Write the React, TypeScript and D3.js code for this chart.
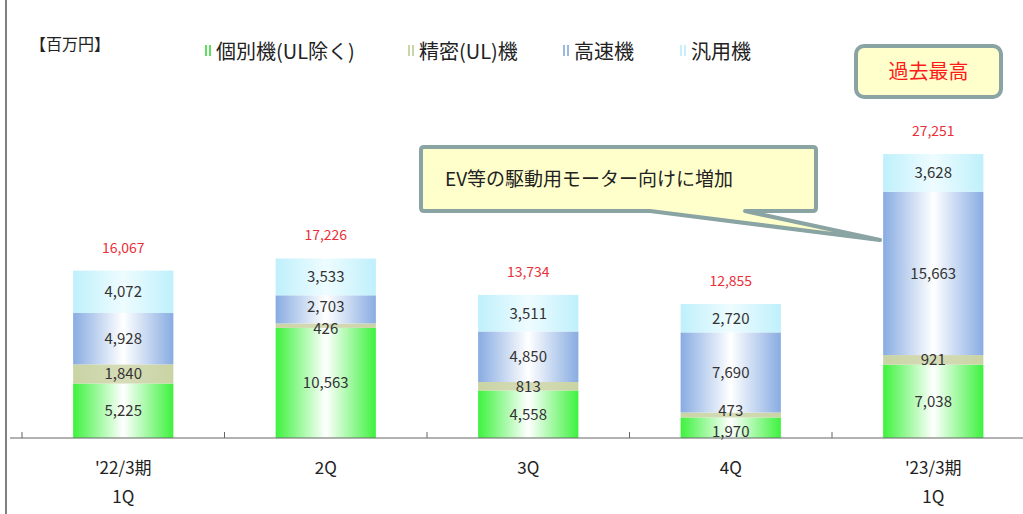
import * as d3 from 'd3'

const width = 1023
const height = 514

const categories = ["'22/3期\n1Q", '2Q', '3Q', '4Q', "'23/3期\n1Q"]
const seriesNames = ['個別機(UL除く)', '精密(UL)機', '高速機', '汎用機']
const kobetsu = [5225, 10563, 4558, 1970, 7038]
const seimitsu = [1840, 426, 813, 473, 921]
const kosoku = [4928, 2703, 4850, 7690, 15663]
const hanyo = [4072, 3533, 3511, 2720, 3628]
const totals = [16067, 17226, 13734, 12855, 27251]

const series = [kobetsu, seimitsu, kosoku, hanyo]
const edgeColors = ['#3ef23e', '#c9d3a3', '#88ace2', '#bff0fb']
const midColors = ['#ffffff', '#d6dcb8', '#ffffff', '#eefcff']
const legendMarks = ['#5de05d', '#c8d6a8', '#9bb8e0', '#c8effa']

const font = '"Noto Sans CJK JP", "Noto Sans", sans-serif'

const baseY = 438

function App() {
  const x = d3.scaleBand<string>()
    .domain(categories)
    .range([22, 22 + 202.5 * categories.length])
    .paddingInner(0.505)
    .paddingOuter(0.2525)

  const y = d3.scaleLinear()
    .domain([0, 27251])
    .range([baseY, 154])

  const stack = categories.map((c, i) => {
    let acc = 0
    return series.map((s, k) => {
      const y0 = acc
      acc += s[i]
      return { k, y0, y1: acc, v: s[i] }
    })
  })

  const ticks = categories.map((_, i) => 22 + 202.5 * i)
  const fmt = d3.format(',')

  // label nudges for thin segments
  const labelShift = (i: number, k: number) => {
    if (i === 3 && k === 0) return 4
    if (i === 3 && k === 1) return -4
    if (i === 1 && k === 1) return 3
    if (i === 1 && k === 2) return -3
    return 0
  }

  const calloutPath = 'M424,147 L813,147 Q816,147 816,150 L816,208 Q816,211 813,211 L745,211 L880,240 L650,211 L424,211 Q421,211 421,208 L421,150 Q421,147 424,147 Z'

  return (
    <svg width={width} height={height} style={{ position: 'absolute', left: 0, top: 0, background: '#fff' }} fontFamily={font}>
      <defs>
        {series.map((_, k) => (
          <linearGradient key={k} id={`g${k}`} x1="0" x2="1" y1="0" y2="0">
            <stop offset="0%" stopColor={edgeColors[k]} />
            <stop offset="50%" stopColor={midColors[k]} />
            <stop offset="100%" stopColor={edgeColors[k]} />
          </linearGradient>
        ))}
      </defs>

      <line x1={6} x2={6} y1={0} y2={height} stroke="#555" strokeWidth={1.5} />

      <text x={30} y={50} fontSize={16} fill="#222">【百万円】</text>

      {/* legend */}
      {[205, 408, 563, 680].map((lx, k) => (
        <g key={k} transform={`translate(${lx},0)`}>
          <rect x={0} y={45} width={2} height={11} fill={legendMarks[k]} />
          <rect x={4} y={45} width={2} height={11} fill={legendMarks[k]} />
          <text x={11} y={59} fontSize={20} fill="#222">{seriesNames[k]}</text>
        </g>
      ))}

      {/* bars */}
      {stack.map((segs, i) => (
        <g key={i}>
          {segs.map(s => (
            <rect
              key={s.k}
              x={x(categories[i])}
              width={x.bandwidth()}
              y={y(s.y1)}
              height={y(s.y0) - y(s.y1)}
              fill={`url(#g${s.k})`}
            />
          ))}
          {segs.map(s => (
            <text
              key={'t' + s.k}
              x={(x(categories[i]) ?? 0) + x.bandwidth() / 2}
              y={(y(s.y0) + y(s.y1)) / 2 + labelShift(i, s.k)}
              dy="0.36em"
              textAnchor="middle"
              fontSize={15}
              fill="#333"
            >{fmt(s.v)}</text>
          ))}
          <text
            x={(x(categories[i]) ?? 0) + x.bandwidth() / 2}
            y={y(totals[i]) - 18}
            textAnchor="middle"
            fontSize={14}
            fill="#e8303a"
          >{fmt(totals[i])}</text>
        </g>
      ))}

      {/* axis */}
      <line x1={10} x2={width} y1={baseY} y2={baseY} stroke="#666" strokeWidth={1.2} />
      {ticks.map(t => (
        <line key={t} x1={t} x2={t} y1={baseY - 6} y2={baseY} stroke="#666" />
      ))}
      {categories.map(c => (
        <text
          key={c}
          x={(x(c) ?? 0) + x.bandwidth() / 2}
          y={474}
          textAnchor="middle"
          fontSize={17}
          fill="#222"
        >
          {c.split('\n').map((line, j) => (
            <tspan key={j} x={(x(c) ?? 0) + x.bandwidth() / 2} dy={j === 0 ? 0 : 29}>{line}</tspan>
          ))}
        </text>
      ))}

      {/* annotations */}
      <rect x={856} y={46} width={145} height={51} rx={8} fill="#ffffcc" stroke="#8aa3a3" strokeWidth={4} />
      <text x={928.5} y={79} textAnchor="middle" fontSize={20} fill="#ff1a1a">過去最高</text>

      <path d={calloutPath} fill="#ffffcc" stroke="#8aa3a3" strokeWidth={4} strokeLinejoin="round" />
      <text x={445} y={186} fontSize={19} fill="#222">EV等の駆動用モーター向けに増加</text>
    </svg>
  )
}

export default App
